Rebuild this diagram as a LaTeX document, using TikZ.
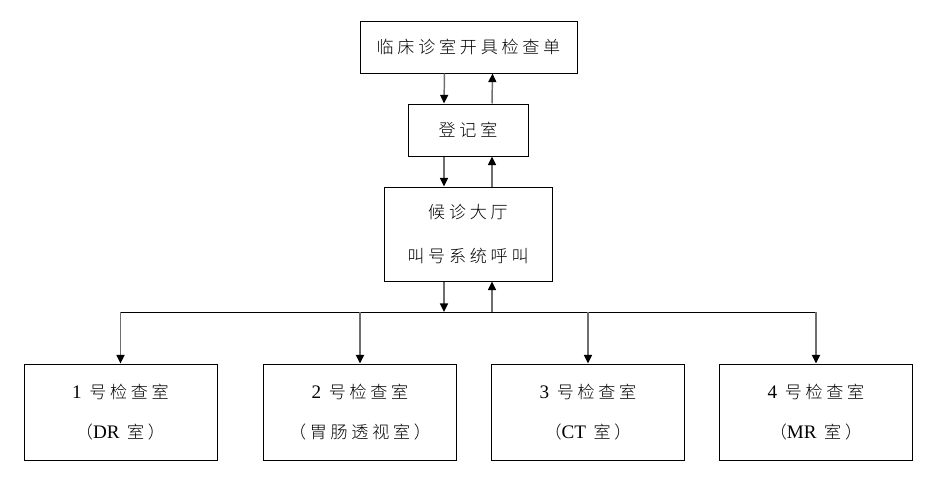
\documentclass[tikz,border=0pt]{standalone}
\usepackage{fontspec}
\usetikzlibrary{arrows.meta}
\newfontfamily\cjk[LetterSpace=22]{Noto Sans CJK SC Light}
\newfontfamily\lat[Scale=1.12]{Liberation Serif}
\definecolor{linegray}{HTML}{6E6E6E}
\tikzset{
  box/.style={draw=black, line width=0.75pt, fill=white, align=center, inner sep=0pt,
    font=\cjk\fontsize{12.8}{31}\selectfont},
  topbox/.style={box, minimum width=162.75pt, minimum height=39pt},
  regbox/.style={box, minimum width=90pt, minimum height=39pt},
  hallbox/.style={box, minimum width=126pt, minimum height=70.5pt, font=\cjk\fontsize{12.8}{32.5}\selectfont},
  roombox/.style={box, minimum width=144.75pt, minimum height=72pt, font=\cjk\fontsize{12.8}{30}\selectfont},
  flow/.style={draw=linegray, line width=1.1pt, -{Triangle[length=6.5pt,width=6pt,color=black]}},
  bus/.style={draw=black, line width=0.75pt}
}
\begin{document}
\begin{tikzpicture}[x=0.75pt,y=-0.75pt]
\useasboundingbox (0,0) rectangle (936,479);
\node[topbox] (top) at (468.5,47) {临床诊室开具检查单};
\node[regbox] (reg) at (468,130) {登记室};
\node[hallbox] (hall) at (468,234) {候诊大厅\\叫号系统呼叫};
\node[roombox] (r1) at (120.5,412) {{\lat 1} 号检查室\\（{\lat DR} 室）};
\node[roombox] (r2) at (360,412) {{\lat 2} 号检查室\\（胃肠透视室）};
\node[roombox] (r3) at (588,412) {{\lat 3} 号检查室\\（{\lat CT} 室）};
\node[roombox] (r4) at (816,412) {{\lat 4} 号检查室\\（{\lat MR} 室）};
\coordinate (busL) at (120.5,312);
\coordinate (busR) at (816,312);
\coordinate (busD) at (444,312);
\coordinate (busU) at (492,312);
% vertical flows between top boxes
\draw[flow] ([xshift=-18pt]top.south) -- ([xshift=-18pt]reg.north);
\draw[flow] ([xshift=18pt]reg.north) -- ([xshift=18pt]top.south);
\draw[flow] ([xshift=-18pt]reg.south) -- ([xshift=-18pt]hall.north);
\draw[flow] ([xshift=18pt]hall.north) -- ([xshift=18pt]reg.south);
\draw[flow] ([xshift=-18pt]hall.south) -- (busD);
\draw[flow] (busU) -- ([xshift=18pt]hall.south);
% bus
\draw[bus] (busL) -- (busR);
\draw[flow] (busL) -- (r1.north);
\draw[flow] (r2.north |- busL) -- (r2.north);
\draw[flow] (r3.north |- busL) -- (r3.north);
\draw[flow] (busR) -- (r4.north);
\end{tikzpicture}
\end{document}
